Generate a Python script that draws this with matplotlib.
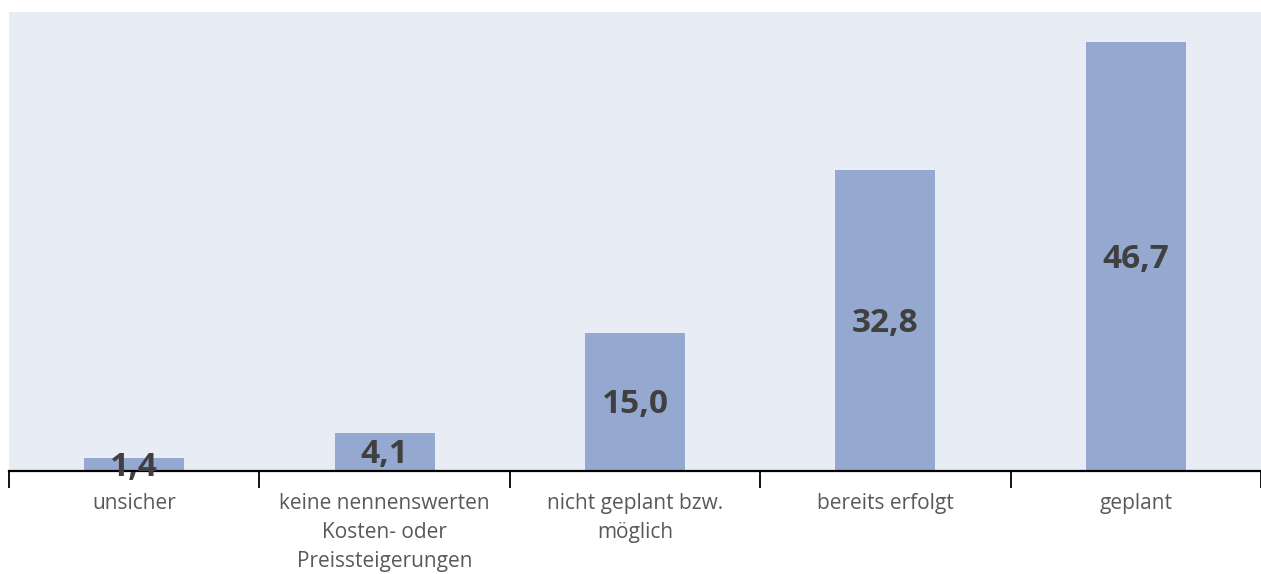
import matplotlib
matplotlib.use("Agg")
import matplotlib.pyplot as plt
import numpy as np

categories = ["unsicher", "keine nennenswerten\nKosten- oder\nPreissteigerungen",
              "nicht geplant bzw.\nmöglich", "bereits erfolgt", "geplant"]
values = [1.4, 4.1, 15.0, 32.8, 46.7]
value_labels = ["1,4", "4,1", "15,0", "32,8", "46,7"]

W, H = 1261, 574
fig = plt.figure(figsize=(W / 100, H / 100), dpi=100)
ax = fig.add_axes([9 / W, 1 - 471 / H, (1261 - 9) / W, (471 - 12) / H])
ax.set_facecolor("#E8ECF4")

x = np.arange(len(categories))
ax.bar(x, values, width=0.4, color="#95A9D0", zorder=2)
ax.set_xlim(-0.5, len(categories) - 0.5)
ax.set_ylim(0, 50)

for xi, v, lab in zip(x, values, value_labels):
    ax.annotate(lab, (xi, v / 2), xytext=(0, -2), textcoords="offset points",
                ha="center", va="center", fontsize=24,
                fontweight="bold", color="#404040", family="Open Sans", zorder=3)

for s in ["top", "right", "left"]:
    ax.spines[s].set_visible(False)
ax.spines["bottom"].set_linewidth(1.6)
ax.spines["bottom"].set_color("black")
ax.set_yticks([])
ax.set_xticks(x)
ax.set_xticklabels(categories, fontsize=15, color="#595959", family="Open Sans",
                   linespacing=1.5, va="top")
ax.tick_params(axis="x", which="major", length=0, pad=16)
ax.set_xticks(np.arange(-0.5, len(categories)), minor=True)
ax.tick_params(axis="x", which="minor", length=12, width=1.3, color="black", direction="out")

fig.savefig("out.png", dpi=100)
